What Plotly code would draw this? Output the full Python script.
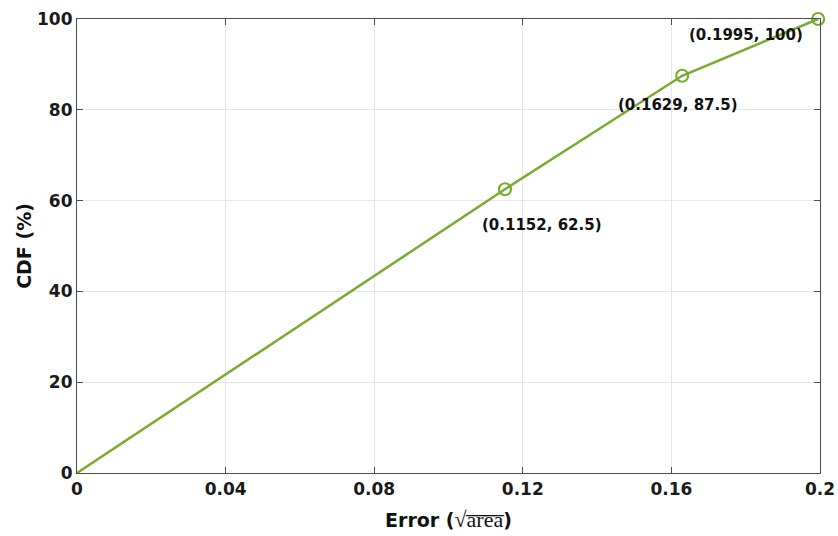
import plotly.graph_objects as go

# CDF of error values
err = [0.0, 0.1152, 0.1629, 0.1995]
cdf = [0.0, 62.5, 87.5, 100.0]

# points that get a circle marker and a coordinate label
mark_err = [0.1152, 0.1629, 0.1995]
mark_cdf = [62.5, 87.5, 100.0]
label_text = ["(0.1152, 62.5)", "(0.1629, 87.5)", "(0.1995, 100)"]
label_shift = [(37, -36), (-4, -29), (-72, -16)]

x_ticks = [0, 0.04, 0.08, 0.12, 0.16, 0.2]
x_tick_text = ["0", "0.04", "0.08", "0.12", "0.16", "0.2"]
y_ticks = [0, 20, 40, 60, 80, 100]

green = "#77AC30"
axis_col = "#4d4d4d"
font_main = "DejaVu Sans, Verdana, sans-serif"

fig = go.Figure()
fig.add_trace(go.Scatter(x=err, y=cdf, mode="lines",
                         line=dict(color=green, width=2.5), hoverinfo="skip"))
fig.add_trace(go.Scatter(x=mark_err, y=mark_cdf, mode="markers",
                         marker=dict(symbol="circle-open", size=12, color=green,
                                     line=dict(width=2.2, color=green)),
                         cliponaxis=False, hoverinfo="skip"))

for xv, yv, txt, (dx, dy) in zip(mark_err, mark_cdf, label_text, label_shift):
    fig.add_annotation(x=xv, y=yv, text="<b>" + txt + "</b>", showarrow=False,
                       xshift=dx, yshift=dy,
                       font=dict(family=font_main, size=15, color="#111"))

fig.update_layout(
    width=838, height=536,
    margin=dict(l=77, r=18, t=19, b=63),
    paper_bgcolor="white", plot_bgcolor="white",
    showlegend=False,
    font=dict(family=font_main, color="#1a1a1a"),
)

fig.update_xaxes(
    range=[0, 0.2], tickvals=x_ticks, ticktext=["<b>" + t + "</b>" for t in x_tick_text],
    tickfont=dict(size=17, color="#1a1a1a"), automargin=False,
    showgrid=True, gridcolor="#e6e6e6", gridwidth=1,
    showline=True, linecolor=axis_col, linewidth=1.2, mirror="ticks",
    ticks="inside", ticklen=6, tickcolor=axis_col, zeroline=False,
    title=dict(text="<b>Error (</b><span style='font-family:Liberation Serif, serif;font-size:22px'>√a̅r̅e̅a̅</span><b>)</b>",
               font=dict(size=19, color="#111"), standoff=16),
)
fig.update_yaxes(
    range=[0, 100], tickvals=y_ticks, ticktext=["<b>%d</b>" % v for v in y_ticks],
    tickfont=dict(size=17, color="#1a1a1a"), automargin=False,
    showgrid=True, gridcolor="#e6e6e6", gridwidth=1,
    showline=True, linecolor=axis_col, linewidth=1.2, mirror="ticks",
    ticks="inside", ticklen=6, tickcolor=axis_col, zeroline=False,
    title=dict(text="<b>CDF (%)</b>", font=dict(size=19, color="#111"), standoff=0),
)

fig.write_html("out.html")
